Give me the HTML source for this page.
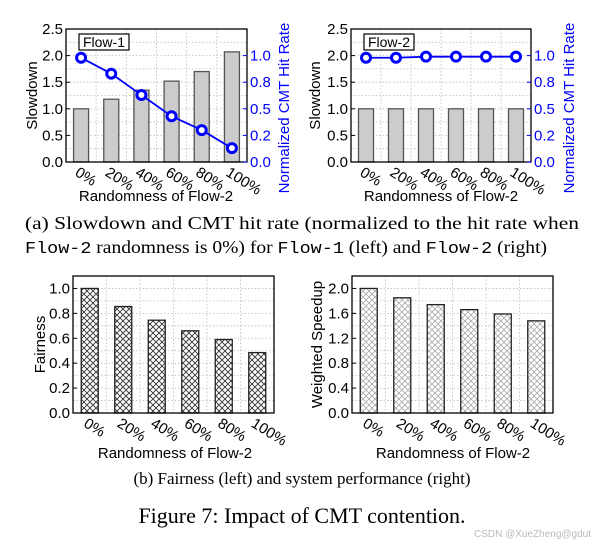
<!DOCTYPE html>
<html><head><meta charset="utf-8"><style>
body{margin:0;background:#fff;}
svg{display:block;font-family:"Liberation Sans",sans-serif;}
.ser{font-family:"Liberation Serif",serif;}
.mono{font-family:"Liberation Mono",monospace;}
</style></head><body>
<svg id="fig" width="604" height="544" viewBox="0 0 604 544" xmlns="http://www.w3.org/2000/svg">
<defs>
<pattern id="hatchDark" width="6" height="6" patternUnits="userSpaceOnUse">
<rect width="6" height="6" fill="#fff"/>
<path d="M0,0L6,6M6,0L0,6" stroke="#333" stroke-width="0.9"/>
</pattern>
<pattern id="hatchLight" width="6" height="6" patternUnits="userSpaceOnUse">
<rect width="6" height="6" fill="#fff"/>
<path d="M0,0L6,6M6,0L0,6" stroke="#aaa" stroke-width="0.8"/>
</pattern>
</defs>
<g id="layer"></g>
<text class="ser" x="25" y="229" font-size="18" textLength="554" lengthAdjust="spacingAndGlyphs">(a) Slowdown and CMT hit rate (normalized to the hit rate when</text>
<text class="ser" x="25" y="253" font-size="18" textLength="522" lengthAdjust="spacingAndGlyphs"><tspan class="mono" font-size="17">Flow-2</tspan> randomness is 0%) for <tspan class="mono" font-size="17">Flow-1</tspan> (left) and <tspan class="mono" font-size="17">Flow-2</tspan> (right)</text>
<text class="ser" x="302" y="484" font-size="17" text-anchor="middle">(b) Fairness (left) and system performance (right)</text>
<text class="ser" x="302" y="523" font-size="22" text-anchor="middle">Figure 7: Impact of CMT contention.</text>
<text x="591" y="537" font-size="10" fill="#bbb" text-anchor="end">CSDN @XueZheng@gdut</text>
</svg>
<script>
const categories = ["0%","20%","40%","60%","80%","100%"];
const slowdownFlow1 = [1.0, 1.18, 1.35, 1.52, 1.70, 2.07];
const hitRateFlow1 = [0.98, 0.83, 0.63, 0.43, 0.30, 0.13];
const slowdownFlow2 = [1.0, 1.0, 1.0, 1.0, 1.0, 1.0];
const hitRateFlow2 = [0.98, 0.98, 0.99, 0.99, 0.99, 0.99];
const fairness = [1.0, 0.855, 0.745, 0.66, 0.59, 0.485];
const weightedSpeedup = [2.0, 1.85, 1.74, 1.66, 1.59, 1.48];
const slowdownTicks = ["0.0","0.5","1.0","1.5","2.0","2.5"];
const hitTicks = ["0.0","0.2","0.5","0.8","1.0"];
const fairTicks = ["0.0","0.2","0.4","0.6","0.8","1.0"];
const wsTicks = ["0.0","0.4","0.8","1.2","1.6","2.0"];

const NS="http://www.w3.org/2000/svg";
const layer=document.getElementById('layer');
function mk(tag,attrs,parent){const e=document.createElementNS(NS,tag);for(const k in attrs)e.setAttribute(k,attrs[k]);(parent||layer).appendChild(e);return e;}

function chart(o){
  const g=mk('g',{});
  
  
  const {x0,x1,y0,y1,ymax}=o;
  const ys=v=>y1-(v/ymax)*(y1-y0);
  const n=categories.length, step=(x1-x0)/n;
  const xs=i=>x0+step*(i+0.5);
  for(let v=o.minor;v<ymax-1e-9;v+=o.minor){mk('line',{x1:x0,x2:x1,y1:ys(v),y2:ys(v),stroke:'#bbb','stroke-width':0.8,'stroke-dasharray':'1.5,2'},g);}
  for(let i=1;i<n;i++){const x=x0+step*i;mk('line',{x1:x,x2:x,y1:y0,y2:y1,stroke:'#bbb','stroke-width':0.8,'stroke-dasharray':'1.5,2'},g);}
  o.values.forEach((v,i)=>{
    const b=mk('rect',{x:xs(i)-o.bw/2,y:ys(v),width:o.bw,height:y1-ys(v),fill:o.fill,stroke:o.stroke,'stroke-width':1.3},g);
    
    
  });
  mk('rect',{x:x0,y:y0,width:x1-x0,height:y1-y0,fill:'none',stroke:'#000','stroke-width':1.3},g);
  o.ticks.forEach((t,i)=>{const v=i*o.tickStep;
    mk('line',{x1:x0,x2:x0+4,y1:ys(v),y2:ys(v),stroke:'#000'},g);
    const tx=mk('text',{x:x0-3,y:ys(v)+5,'font-size':15,'text-anchor':'end'},g);tx.textContent=t;
    
    
  });
  categories.forEach((c,i)=>{
    const tx=mk('text',{x:xs(i)-7,y:y1+13,'font-size':15,transform:`rotate(32 ${xs(i)-7} ${y1+13})`},g);tx.textContent=c;
    
    
  });
  const yl=mk('text',{x:o.ylx,y:(y0+y1)/2,'font-size':15,'text-anchor':'middle',transform:`rotate(-90 ${o.ylx} ${(y0+y1)/2})`},g);yl.textContent=o.ylabel;
  
  
  const xl=mk('text',{x:o.xlx,y:o.xly,'font-size':15,'text-anchor':'middle'},g);xl.textContent='Randomness of Flow-2';
  
  
  if(o.line){
    const ymax2=1.25, ys2=v=>y1-(v/ymax2)*(y1-y0);
    hitTicks.forEach((t,i)=>{const v=i*0.25;
      mk('line',{x1:x1-4,x2:x1,y1:ys2(v),y2:ys2(v),stroke:'#00f'},g);
      const tx=mk('text',{x:x1+3,y:ys2(v)+5,'font-size':15,fill:'#00f'},g);tx.textContent=t;
      
      
    });
    const pts=o.line.map((v,i)=>xs(i)+','+ys2(v)).join(' ');
    const pl=mk('polyline',{points:pts,fill:'none',stroke:'#00f','stroke-width':1.8},g);
    
    
    o.line.forEach((v,i)=>{const c=mk('circle',{cx:xs(i),cy:ys2(v),r:4.5,fill:'#fff',stroke:'#00f','stroke-width':3},g);
      
      });
    const rl=mk('text',{x:o.rlx,y:108,'font-size':15,fill:'#00f','text-anchor':'middle',transform:`rotate(-90 ${o.rlx} 108)`},g);rl.textContent='Normalized CMT Hit Rate';
    
    
    const bx=mk('rect',{x:o.boxX,y:34,width:50,height:16,fill:'#fff',stroke:'#000','stroke-width':1.2},g);
    
    
    const bt=mk('text',{x:o.boxX+25,y:47,'font-size':14,'text-anchor':'middle'},g);bt.textContent=o.boxText;
    
    
  }
}
chart({name:'chart-flow1',x0:66,x1:247,y0:29,y1:162,ymax:2.5,minor:0.25,tickStep:0.5,ticks:slowdownTicks,values:slowdownFlow1,bw:15,fill:'#ccc',stroke:'#555',ylx:37,ylabel:'Slowdown',xlx:156,xly:201,line:hitRateFlow1,rlx:289,boxX:79,boxText:'Flow-1'});
chart({name:'chart-flow2',x0:351,x1:531,y0:29,y1:162,ymax:2.5,minor:0.25,tickStep:0.5,ticks:slowdownTicks,values:slowdownFlow2,bw:15,fill:'#ccc',stroke:'#555',ylx:320,ylabel:'Slowdown',xlx:441,xly:201,line:hitRateFlow2,rlx:574,boxX:364,boxText:'Flow-2'});
chart({name:'chart-fairness',x0:73,x1:274,y0:276,y1:413,ymax:1.1,minor:0.1,tickStep:0.2,ticks:fairTicks,values:fairness,bw:17,fill:'url(#hatchDark)',stroke:'#222',ylx:45,ylabel:'Fairness',xlx:175,xly:458});
chart({name:'chart-weighted-speedup',x0:352,x1:553,y0:276,y1:413,ymax:2.2,minor:0.2,tickStep:0.4,ticks:wsTicks,values:weightedSpeedup,bw:17,fill:'url(#hatchLight)',stroke:'#222',ylx:322,ylabel:'Weighted Speedup',xlx:453,xly:458});
</script>
</body></html>
